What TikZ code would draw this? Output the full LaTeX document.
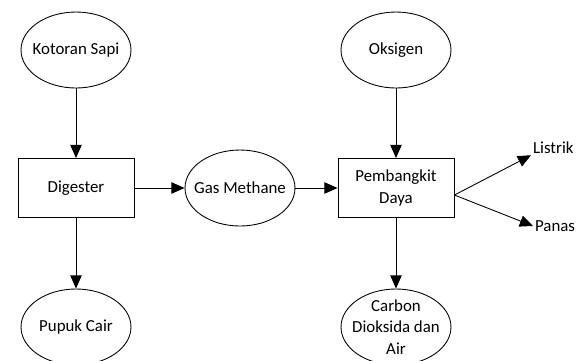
\documentclass[tikz,border=0pt]{standalone}
\usepackage{fontspec}
\setmainfont{Carlito}
\usepackage{tikz}
\usetikzlibrary{arrows.meta, shapes.geometric}

\begin{document}
\begin{tikzpicture}[x=0.02cm, y=-0.02cm, every node/.style={align=center, font=\fontsize{9.6}{12.2}\selectfont},
  proc/.style={draw, line width=0.5pt, rectangle, minimum width=2.32cm, minimum height=1.18cm, inner sep=2pt},
  item/.style={draw, line width=0.5pt, ellipse, minimum width=2.2cm, minimum height=1.52cm, inner xsep=-4pt, inner ysep=-2pt},
  arr/.style={-{Triangle[length=7.5pt, width=6.5pt]}, line width=0.5pt}]
\useasboundingbox (0,0) rectangle (583,360);
\node[item] (kot) at (76,50) {Kotoran Sapi};
\node[proc] (dig) at (76,188) {Digester};
\node[item] (pup) at (76,327) {Pupuk Cair};
\node[item] (gas) at (240,188) {Gas Methane};
\node[item] (oks) at (396,50) {Oksigen};
\node[proc] (pem) at (396,188) {Pembangkit\\Daya};
\node[item] (car) at (396,327) {Carbon\\Dioksida dan\\Air};
\node[anchor=base west, inner sep=1pt] (lis) at (531,153) {Listrik};
\node[anchor=west, inner sep=1pt] (pan) at (533,226) {Panas};
\coordinate (out) at ([yshift=-4pt]pem.east);
\draw[arr] (kot) -- (dig);
\draw[arr] (dig) -- (pup);
\draw[arr] (dig) -- (gas);
\draw[arr] (gas) -- (pem);
\draw[arr] (oks) -- (pem);
\draw[arr] (pem) -- (car);
\draw[arr] (out) -- (lis.south west);
\draw[arr] (out) -- (pan.west);
\end{tikzpicture}
\end{document}
